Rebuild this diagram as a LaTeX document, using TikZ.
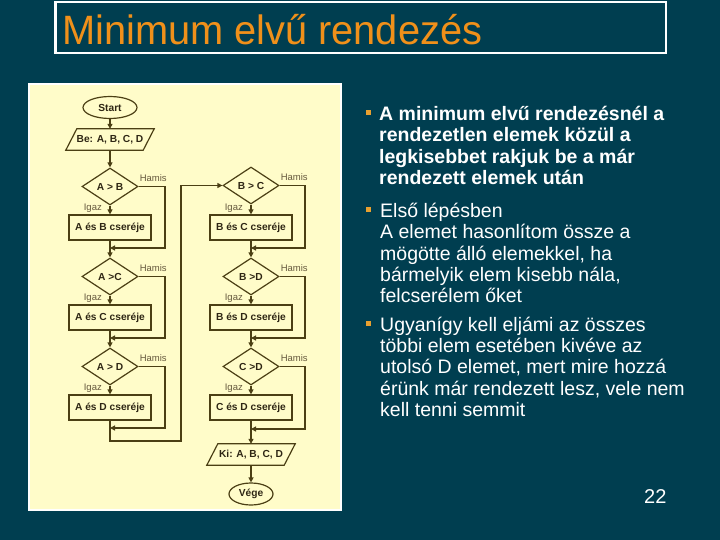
\documentclass[tikz,border=0pt]{standalone}
\usepackage{fontspec}
\setmainfont{Liberation Sans}
\usetikzlibrary{arrows.meta,shapes.geometric}
\definecolor{slideteal}{HTML}{003E50}
\definecolor{titleorange}{HTML}{F0901A}
\definecolor{bulletorange}{HTML}{E8A030}
\definecolor{panelyellow}{HTML}{FFFCC9}
\definecolor{flowink}{HTML}{4B3F14}
\definecolor{boxtext}{HTML}{2E2614}
\definecolor{labelink}{HTML}{675A3E}

\begin{document}
\begin{tikzpicture}[
  x=1pt,
  y=-1pt,
  line/.style={flowink, line width=1.2pt},
  flow/.style={line, -{Triangle[length=5pt, width=5pt]}},
  boxfont/.style={font=\fontsize{10.2}{12}\selectfont\bfseries, text=boxtext},
  terminal/.style={ellipse, draw=flowink, line width=1.2pt, boxfont, inner sep=0pt},
  process/.style={rectangle, draw=flowink, line width=1.2pt, boxfont, inner sep=0pt,
    minimum width=82pt, minimum height=25pt},
  decision/.style={diamond, draw=flowink, line width=1.2pt, boxfont, inner sep=0pt,
    aspect=1.5, minimum width=56pt, minimum height=37pt},
  iobox/.style={rectangle, boxfont, inner sep=0pt, minimum width=77pt, minimum height=21pt},
  lbl/.style={font=\fontsize{9.5}{11}\selectfont, text=labelink, inner sep=0pt},
  bodytext/.style={font=\fontsize{19.5}{21.4}\selectfont, text=white, inner sep=0pt,
    align=left},
  bulletsq/.style={fill=bulletorange, inner sep=0pt, minimum size=5pt}
]
  % ---- slide ---------------------------------------------------------------
  \useasboundingbox (0,0) rectangle (720,540);
  \fill[slideteal] (0,0) rectangle (720,540);

  % ---- title ---------------------------------------------------------------
  \draw[white, line width=2.5pt] (55.5,2) rectangle (666,53);
  \node[anchor=base west, inner sep=0pt, text=titleorange,
    font=\fontsize{41}{48}\selectfont] (title) at (62,45)
    {\scalebox{0.97}[1]{Minimum elvű rendezés}};

  % ---- flowchart panel -----------------------------------------------------
  \draw[white, fill=panelyellow, line width=2pt] (29,84) rectangle (341,510);

  % ---- left column ---------------------------------------------------------
  \node[terminal, minimum width=54pt, minimum height=22pt] (start) at (110,107.5) {Start};
  \node[iobox] (inp) at (110,139.5) {Be: A, B, C, D};
  \draw[line] ([xshift=5.5pt]inp.north west) -- ([xshift=5.5pt]inp.north east)
    -- ([xshift=-5.5pt]inp.south east) -- ([xshift=-5.5pt]inp.south west) -- cycle;
  \node[decision] (dAB) at (110,186.5) {A > B};
  \node[process] (bAB) at (110,227.5) {A és B cseréje};
  \node[decision] (dAC) at (110,276.5) {A >C};
  \node[process] (bAC) at (110,317.5) {A és C cseréje};
  \node[decision] (dAD) at (110,366.5) {A > D};
  \node[process] (bAD) at (110,407.5) {A és D cseréje};

  % ---- right column --------------------------------------------------------
  \node[decision] (dBC) at (251,185.5) {B > C};
  \node[process] (bBC) at (251,227.5) {B és C cseréje};
  \node[decision] (dBD) at (251,276.5) {B >D};
  \node[process] (bBD) at (251,317.5) {B és D cseréje};
  \node[decision] (dCD) at (251,366.5) {C >D};
  \node[process] (bCD) at (251,407.5) {C és D cseréje};
  \node[iobox] (outp) at (251,454.5) {Ki: A, B, C, D};
  \draw[line] ([xshift=5.5pt]outp.north west) -- ([xshift=5.5pt]outp.north east)
    -- ([xshift=-5.5pt]outp.south east) -- ([xshift=-5.5pt]outp.south west) -- cycle;
  \node[terminal, minimum width=44pt, minimum height=22pt] (stop) at (251,494) {Vége};

  % ---- join points of the false branches -----------------------------------
  \coordinate (mAB) at (110,248);  \coordinate (hAB) at (165,248);
  \coordinate (mAC) at (110,338);  \coordinate (hAC) at (165,338);
  \coordinate (mAD) at (110,428);  \coordinate (hAD) at (165,428);
  \coordinate (mBC) at (251,248);  \coordinate (hBC) at (305,248);
  \coordinate (mBD) at (251,338);  \coordinate (hBD) at (305,338);
  \coordinate (mCD) at (251,429);  \coordinate (hCD) at (305,429);
  \coordinate (loopA) at (110,441);
  \coordinate (loopB) at (181,441);

  % ---- main flow -----------------------------------------------------------
  \draw[flow] (start.south) -- (inp.north);
  \draw[flow] (inp.south) -- (dAB.north);
  \draw[flow] (dAB.south) -- (bAB.north);
  \draw[flow] (bAB.south) -- (dAC.north);
  \draw[flow] (dAC.south) -- (bAC.north);
  \draw[flow] (bAC.south) -- (dAD.north);
  \draw[flow] (dAD.south) -- (bAD.north);
  \draw[flow] (bAD.south) -- (loopA) -- (loopB) |- (dBC.west);
  \draw[flow] (dBC.south) -- (bBC.north);
  \draw[flow] (bBC.south) -- (dBD.north);
  \draw[flow] (dBD.south) -- (bBD.north);
  \draw[flow] (bBD.south) -- (dCD.north);
  \draw[flow] (dCD.south) -- (bCD.north);
  \draw[flow] (bCD.south) -- (outp.north);
  \draw[flow] (outp.south) -- (stop.north);

  % ---- false branches ------------------------------------------------------
  \foreach \d/\m/\h in {AB/mAB/hAB, AC/mAC/hAC, AD/mAD/hAD,
                        BC/mBC/hBC, BD/mBD/hBD, CD/mCD/hCD} {
    \draw[flow] (d\d.east) -| (\h) -- (\m);
    \node[lbl, anchor=base west] (hamis\d) at ([xshift=1pt, yshift=5pt]d\d.east) {Hamis};
    \node[lbl, anchor=base east] (igaz\d) at ([xshift=-8pt, yshift=4pt]b\d.north) {Igaz};
  }

  % ---- bullet text (anchored on the baseline of the last line) -------------
  \node[bulletsq] (sq1) at (368.5,112.5) {};
  \node[bodytext, anchor=base west, font=\fontsize{19.5}{21.4}\selectfont\bfseries]
    (txt1) at (379,184.5)
    {A minimum elvű rendezésnél a\\ rendezetlen elemek közül a\\
     legkisebbet rakjuk be a már\\ rendezett elemek után};
  \node[bulletsq] (sq2) at (368.5,209.5) {};
  \node[bodytext, anchor=base west] (txt2) at (380,302.9)
    {Első lépésben\\ A elemet hasonlítom össze a\\ mögötte álló elemekkel, ha\\
     bármelyik elem kisebb nála,\\ felcserélem őket};
  \node[bulletsq] (sq3) at (368.5,323.2) {};
  \node[bodytext, anchor=base west] (txt3) at (380,416.6)
    {Ugyanígy kell eljámi az összes\\ többi elem esetében kivéve az\\
     utolsó D elemet, mert mire hozzá\\ érünk már rendezett lesz, vele nem\\
     kell tenni semmit};

  % ---- page number ---------------------------------------------------------
  \node[anchor=base west, inner sep=0pt, text=white, font=\fontsize{20}{24}\selectfont]
    (pagenum) at (644,503) {22};
\end{tikzpicture}
\end{document}
